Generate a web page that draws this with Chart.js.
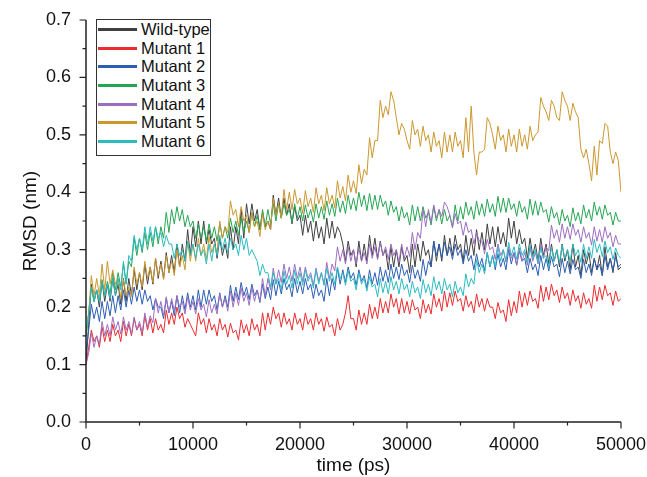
<!DOCTYPE html>
<html lang="en">
<head>
<meta charset="UTF-8">
<title>RMSD vs time</title>
<script src="https://cdn.jsdelivr.net/npm/chart.js@4.4.3/dist/chart.umd.min.js"></script>
<style>
  html, body { margin: 0; padding: 0; background: #fff; }
  .wrap { position: relative; width: 647px; height: 477px; }
  canvas { display: block; }
  .legend { position: absolute; left: 96px; top: 19px; width: 115px; height: 137px; box-sizing: border-box;
    border: 1px solid #333; background: #fff; font-family: 'Liberation Sans', Arial, sans-serif; font-size: 16.5px; color: #111; }
  .legend .row { display: flex; align-items: center; height: 18.7px; white-space: nowrap; }
  .legend .sw { width: 39px; height: 3px; margin-left: 1px; margin-right: 4px; flex: 0 0 39px; }
</style>
</head>
<body>
<div class="wrap">
  <canvas id="c" width="647" height="477"></canvas>
  <div class="legend" id="legend"></div>
</div>
<script>
// time axis, one frame every 250 ps
const time = [0,250,500,750,1000,1250,1500,1750,2000,2250,2500,2750,3000,3250,3500,3750,4000,4250,4500,4750,
  5000,5250,5500,5750,6000,6250,6500,6750,7000,7250,7500,7750,8000,8250,8500,8750,9000,9250,9500,9750,
  10000,10250,10500,10750,11000,11250,11500,11750,12000,12250,12500,12750,13000,13250,13500,13750,14000,14250,14500,14750,
  15000,15250,15500,15750,16000,16250,16500,16750,17000,17250,17500,17750,18000,18250,18500,18750,19000,19250,19500,19750,
  20000,20250,20500,20750,21000,21250,21500,21750,22000,22250,22500,22750,23000,23250,23500,23750,24000,24250,24500,24750,
  25000,25250,25500,25750,26000,26250,26500,26750,27000,27250,27500,27750,28000,28250,28500,28750,29000,29250,29500,29750,
  30000,30250,30500,30750,31000,31250,31500,31750,32000,32250,32500,32750,33000,33250,33500,33750,34000,34250,34500,34750,
  35000,35250,35500,35750,36000,36250,36500,36750,37000,37250,37500,37750,38000,38250,38500,38750,39000,39250,39500,39750,
  40000,40250,40500,40750,41000,41250,41500,41750,42000,42250,42500,42750,43000,43250,43500,43750,44000,44250,44500,44750,
  45000,45250,45500,45750,46000,46250,46500,46750,47000,47250,47500,47750,48000,48250,48500,48750,49000,49250,49500,49750,
  50000];

const seriesNames = ['Wild-type', 'Mutant 1', 'Mutant 2', 'Mutant 3', 'Mutant 4', 'Mutant 5', 'Mutant 6'];
const seriesColors = ['#3f3f3f', '#ec2b2e', '#2c5eb4', '#25a553', '#9d6ec0', '#cb982e', '#2bbcc0'];

const wildType = [0.10,0.17,0.24,0.21,0.23,0.20,0.245,0.21,0.24,0.21,0.25,0.22,0.24,0.205,0.25,0.21,0.25,0.22,0.265,0.23,
  0.26,0.23,0.275,0.24,0.27,0.24,0.285,0.25,0.28,0.25,0.295,0.26,0.29,0.26,0.31,0.27,0.31,0.28,0.335,0.29,
  0.34,0.305,0.35,0.31,0.35,0.31,0.335,0.31,0.32,0.285,0.32,0.29,0.31,0.285,0.34,0.30,0.34,0.31,0.37,0.32,
  0.38,0.345,0.38,0.35,0.37,0.335,0.365,0.34,0.35,0.335,0.395,0.36,0.39,0.355,0.39,0.36,0.38,0.345,0.375,0.35,
  0.36,0.325,0.36,0.33,0.35,0.315,0.35,0.32,0.34,0.31,0.355,0.32,0.35,0.32,0.34,0.33,0.31,0.28,0.315,0.29,
  0.30,0.27,0.315,0.28,0.31,0.28,0.325,0.29,0.32,0.285,0.315,0.29,0.30,0.265,0.305,0.27,0.30,0.27,0.305,0.28,
  0.29,0.26,0.31,0.27,0.31,0.28,0.315,0.29,0.30,0.27,0.315,0.28,0.31,0.28,0.325,0.29,0.32,0.29,0.325,0.30,
  0.31,0.28,0.325,0.29,0.32,0.29,0.335,0.30,0.33,0.30,0.345,0.31,0.34,0.305,0.34,0.31,0.33,0.305,0.355,0.32,
  0.35,0.31,0.335,0.31,0.32,0.285,0.32,0.29,0.31,0.28,0.32,0.29,0.31,0.275,0.31,0.28,0.30,0.27,0.31,0.28,
  0.30,0.265,0.31,0.27,0.29,0.255,0.30,0.275,0.295,0.26,0.285,0.265,0.29,0.255,0.305,0.27,0.285,0.26,0.295,0.265,
  0.27];

const mutant1 = [0.10,0.13,0.16,0.14,0.15,0.13,0.165,0.14,0.16,0.14,0.17,0.15,0.16,0.14,0.175,0.15,0.17,0.15,0.18,0.16,
  0.17,0.15,0.185,0.16,0.18,0.155,0.18,0.16,0.17,0.155,0.195,0.17,0.19,0.17,0.20,0.18,0.19,0.165,0.18,0.17,
  0.16,0.15,0.19,0.17,0.18,0.155,0.18,0.16,0.17,0.15,0.18,0.16,0.17,0.148,0.172,0.155,0.16,0.143,0.178,0.155,
  0.17,0.15,0.18,0.16,0.17,0.15,0.19,0.16,0.19,0.17,0.20,0.18,0.19,0.165,0.19,0.17,0.18,0.16,0.19,0.17,
  0.18,0.16,0.19,0.17,0.18,0.16,0.19,0.17,0.18,0.158,0.183,0.165,0.17,0.15,0.18,0.16,0.17,0.19,0.22,0.18,
  0.18,0.16,0.195,0.17,0.19,0.17,0.205,0.18,0.20,0.18,0.215,0.19,0.21,0.19,0.223,0.20,0.215,0.188,0.215,0.19,
  0.21,0.188,0.213,0.195,0.20,0.18,0.213,0.19,0.205,0.188,0.223,0.20,0.215,0.193,0.228,0.20,0.225,0.203,0.228,0.21,
  0.215,0.193,0.22,0.20,0.21,0.19,0.223,0.20,0.215,0.193,0.215,0.20,0.20,0.18,0.208,0.19,0.195,0.175,0.213,0.185,
  0.21,0.19,0.228,0.20,0.225,0.203,0.228,0.21,0.215,0.198,0.238,0.21,0.235,0.213,0.24,0.22,0.23,0.208,0.235,0.215,
  0.225,0.203,0.23,0.21,0.22,0.198,0.225,0.205,0.215,0.198,0.238,0.21,0.235,0.213,0.238,0.22,0.225,0.203,0.228,0.21,
  0.215];

const mutant2 = [0.12,0.16,0.205,0.18,0.20,0.175,0.21,0.18,0.21,0.185,0.22,0.19,0.22,0.195,0.23,0.20,0.23,0.205,0.235,0.21,
  0.23,0.205,0.23,0.21,0.22,0.195,0.215,0.20,0.20,0.18,0.215,0.19,0.21,0.185,0.22,0.19,0.22,0.195,0.225,0.20,
  0.22,0.195,0.23,0.20,0.23,0.205,0.23,0.21,0.22,0.195,0.225,0.20,0.22,0.20,0.238,0.21,0.235,0.213,0.243,0.22,
  0.235,0.213,0.24,0.22,0.23,0.208,0.24,0.215,0.235,0.213,0.248,0.22,0.245,0.223,0.25,0.23,0.24,0.218,0.25,0.225,
  0.245,0.223,0.25,0.23,0.24,0.215,0.24,0.22,0.23,0.21,0.25,0.22,0.25,0.23,0.268,0.24,0.265,0.243,0.27,0.25,
  0.26,0.238,0.265,0.245,0.255,0.233,0.265,0.24,0.26,0.238,0.27,0.245,0.265,0.243,0.275,0.25,0.27,0.248,0.275,0.255,
  0.265,0.243,0.273,0.25,0.265,0.245,0.283,0.255,0.28,0.27,0.315,0.29,0.31,0.285,0.313,0.29,0.305,0.283,0.31,0.29,
  0.30,0.275,0.30,0.28,0.29,0.265,0.293,0.27,0.285,0.263,0.295,0.27,0.29,0.265,0.293,0.27,0.285,0.265,0.30,0.275,
  0.295,0.273,0.298,0.28,0.285,0.26,0.285,0.265,0.275,0.255,0.29,0.265,0.285,0.263,0.288,0.27,0.275,0.253,0.285,0.26,
  0.28,0.258,0.283,0.265,0.27,0.25,0.283,0.26,0.275,0.255,0.285,0.265,0.275,0.255,0.29,0.265,0.285,0.263,0.288,0.27,
  0.275];

const mutant3 = [0.15,0.19,0.235,0.21,0.23,0.21,0.248,0.22,0.245,0.223,0.26,0.23,0.26,0.235,0.275,0.24,0.28,0.27,0.32,0.29,
  0.32,0.295,0.33,0.30,0.33,0.305,0.34,0.31,0.34,0.32,0.365,0.33,0.37,0.345,0.375,0.35,0.37,0.34,0.36,0.34,
  0.35,0.32,0.345,0.32,0.34,0.315,0.345,0.32,0.34,0.315,0.345,0.32,0.34,0.32,0.355,0.33,0.35,0.325,0.355,0.33,
  0.35,0.33,0.365,0.34,0.36,0.335,0.37,0.34,0.37,0.345,0.38,0.35,0.38,0.355,0.38,0.36,0.37,0.348,0.38,0.355,
  0.375,0.35,0.378,0.355,0.37,0.348,0.38,0.355,0.375,0.353,0.385,0.36,0.38,0.358,0.39,0.365,0.385,0.363,0.395,0.37,
  0.39,0.368,0.40,0.375,0.395,0.368,0.398,0.37,0.395,0.37,0.395,0.375,0.385,0.36,0.385,0.365,0.375,0.35,0.375,0.355,
  0.365,0.343,0.378,0.35,0.375,0.35,0.375,0.355,0.365,0.343,0.375,0.35,0.37,0.345,0.37,0.35,0.36,0.34,0.378,0.35,
  0.375,0.353,0.383,0.36,0.375,0.353,0.385,0.36,0.38,0.358,0.388,0.365,0.38,0.358,0.393,0.365,0.39,0.365,0.39,0.37,
  0.38,0.358,0.385,0.365,0.375,0.353,0.388,0.36,0.385,0.36,0.383,0.365,0.37,0.348,0.375,0.355,0.365,0.343,0.37,0.35,
  0.36,0.34,0.373,0.35,0.365,0.345,0.378,0.355,0.37,0.35,0.383,0.36,0.375,0.353,0.378,0.36,0.365,0.343,0.365,0.35,
  0.35];

const mutant4 = [0.10,0.12,0.155,0.13,0.15,0.135,0.175,0.15,0.17,0.15,0.183,0.16,0.175,0.153,0.183,0.16,0.175,0.153,0.183,0.16,
  0.175,0.155,0.19,0.165,0.185,0.173,0.215,0.19,0.21,0.185,0.218,0.19,0.215,0.193,0.22,0.20,0.21,0.188,0.218,0.195,
  0.21,0.188,0.215,0.195,0.205,0.183,0.213,0.19,0.205,0.188,0.223,0.20,0.215,0.193,0.228,0.20,0.225,0.203,0.233,0.21,
  0.225,0.203,0.235,0.21,0.23,0.21,0.25,0.22,0.25,0.23,0.268,0.24,0.265,0.243,0.275,0.25,0.27,0.245,0.275,0.25,
  0.27,0.245,0.27,0.25,0.26,0.238,0.268,0.245,0.26,0.24,0.278,0.25,0.275,0.263,0.305,0.28,0.30,0.275,0.305,0.28,
  0.30,0.275,0.303,0.28,0.295,0.275,0.31,0.285,0.305,0.283,0.313,0.29,0.305,0.283,0.31,0.29,0.30,0.278,0.31,0.285,
  0.305,0.288,0.33,0.30,0.33,0.32,0.37,0.34,0.37,0.348,0.378,0.355,0.37,0.358,0.383,0.375,0.36,0.338,0.363,0.345,
  0.35,0.325,0.348,0.33,0.335,0.31,0.33,0.315,0.315,0.293,0.318,0.30,0.305,0.283,0.31,0.29,0.30,0.278,0.305,0.285,
  0.295,0.273,0.303,0.28,0.295,0.273,0.303,0.28,0.295,0.275,0.31,0.285,0.305,0.298,0.343,0.32,0.335,0.313,0.345,0.32,
  0.34,0.318,0.345,0.325,0.335,0.313,0.34,0.32,0.33,0.308,0.34,0.315,0.335,0.313,0.34,0.32,0.33,0.305,0.325,0.31,
  0.31];

const mutant5 = [0.15,0.19,0.255,0.22,0.25,0.22,0.275,0.23,0.28,0.24,0.265,0.24,0.25,0.215,0.248,0.22,0.235,0.218,0.27,0.24,
  0.26,0.235,0.28,0.25,0.27,0.243,0.285,0.255,0.275,0.248,0.29,0.26,0.28,0.255,0.30,0.27,0.29,0.265,0.315,0.28,
  0.31,0.28,0.32,0.29,0.31,0.283,0.323,0.295,0.31,0.295,0.35,0.32,0.34,0.33,0.385,0.36,0.37,0.34,0.375,0.35,
  0.36,0.33,0.365,0.34,0.35,0.323,0.363,0.335,0.35,0.335,0.39,0.36,0.38,0.355,0.405,0.37,0.40,0.37,0.405,0.38,
  0.39,0.363,0.403,0.375,0.39,0.365,0.408,0.38,0.395,0.368,0.408,0.38,0.395,0.373,0.42,0.39,0.41,0.385,0.43,0.40,
  0.42,0.398,0.448,0.415,0.44,0.43,0.495,0.46,0.49,0.49,0.56,0.53,0.55,0.535,0.575,0.56,0.53,0.50,0.52,0.51,
  0.49,0.475,0.525,0.50,0.51,0.48,0.515,0.49,0.50,0.47,0.505,0.48,0.49,0.46,0.505,0.47,0.50,0.47,0.505,0.48,
  0.49,0.46,0.53,0.47,0.55,0.47,0.43,0.47,0.47,0.475,0.53,0.52,0.50,0.475,0.515,0.49,0.50,0.47,0.51,0.48,
  0.50,0.47,0.51,0.48,0.50,0.475,0.515,0.49,0.50,0.505,0.565,0.55,0.54,0.525,0.56,0.55,0.53,0.525,0.575,0.56,
  0.55,0.525,0.555,0.54,0.53,0.475,0.46,0.475,0.45,0.42,0.48,0.43,0.49,0.485,0.52,0.515,0.47,0.45,0.47,0.455,
  0.40];

const mutant6 = [0.15,0.19,0.235,0.21,0.23,0.21,0.245,0.22,0.24,0.215,0.25,0.22,0.25,0.23,0.28,0.24,0.29,0.28,0.325,0.30,
  0.32,0.30,0.34,0.31,0.34,0.315,0.34,0.32,0.33,0.305,0.325,0.31,0.31,0.285,0.31,0.29,0.30,0.28,0.315,0.29,
  0.31,0.285,0.31,0.29,0.30,0.275,0.31,0.28,0.31,0.29,0.325,0.30,0.32,0.295,0.32,0.30,0.31,0.29,0.325,0.30,
  0.32,0.29,0.30,0.29,0.28,0.255,0.275,0.26,0.26,0.235,0.26,0.24,0.25,0.23,0.263,0.24,0.255,0.233,0.265,0.24,
  0.26,0.238,0.265,0.245,0.255,0.233,0.265,0.24,0.26,0.238,0.268,0.245,0.26,0.24,0.27,0.25,0.26,0.238,0.263,0.245,
  0.25,0.23,0.26,0.24,0.25,0.228,0.253,0.235,0.24,0.218,0.25,0.225,0.245,0.223,0.253,0.23,0.245,0.223,0.25,0.23,
  0.24,0.218,0.245,0.225,0.235,0.215,0.248,0.225,0.24,0.22,0.253,0.23,0.245,0.223,0.25,0.23,0.24,0.218,0.245,0.225,
  0.235,0.22,0.258,0.235,0.25,0.24,0.283,0.26,0.275,0.258,0.295,0.27,0.29,0.27,0.305,0.28,0.30,0.28,0.313,0.29,
  0.305,0.283,0.31,0.29,0.30,0.278,0.308,0.285,0.30,0.278,0.303,0.285,0.29,0.27,0.305,0.28,0.30,0.278,0.308,0.285,
  0.30,0.28,0.31,0.29,0.30,0.278,0.31,0.285,0.305,0.285,0.318,0.295,0.31,0.288,0.315,0.295,0.305,0.283,0.303,0.29,
  0.285];

const seriesValues = [wildType, mutant1, mutant2, mutant3, mutant4, mutant5, mutant6];

// html legend, origin style box
const legend = document.getElementById('legend');
seriesNames.forEach((name, i) => {
  const row = document.createElement('div');
  row.className = 'row';
  row.innerHTML = `<span class="sw" style="background:${seriesColors[i]}"></span><span>${name}</span>`;
  legend.appendChild(row);
});

// axis lines + outward ticks like Origin (major long, minor short)
const axesPlugin = {
  id: 'originAxes',
  afterDraw(chart) {
    const { ctx, chartArea: a, scales: { x, y } } = chart;
    ctx.save();
    ctx.strokeStyle = '#222';
    ctx.lineWidth = 1.5;
    ctx.beginPath();
    ctx.moveTo(a.left, a.top);
    ctx.lineTo(a.left, a.bottom);
    ctx.lineTo(a.right, a.bottom);
    ctx.stroke();
    ctx.lineWidth = 1.2;
    ctx.beginPath();
    x.ticks.forEach(t => {
      const px = x.getPixelForValue(t.value);
      const len = Math.round(t.value) % 10000 ? 3.5 : 6.5;
      ctx.moveTo(px, a.bottom);
      ctx.lineTo(px, a.bottom + len);
    });
    y.ticks.forEach(t => {
      const py = y.getPixelForValue(t.value);
      const len = Math.round(t.value * 20) % 2 ? 3.5 : 6.5;
      ctx.moveTo(a.left, py);
      ctx.lineTo(a.left - len, py);
    });
    ctx.stroke();
    ctx.restore();
  }
};

Chart.defaults.font.family = "'Liberation Sans', Arial, sans-serif";
Chart.defaults.color = '#111';

new Chart(document.getElementById('c'), {
  type: 'line',
  data: {
    datasets: seriesNames.map((name, i) => ({
      label: name,
      data: time.map((t, j) => ({ x: t, y: seriesValues[i][j] })),
      borderColor: seriesColors[i],
      borderWidth: 1,
      pointRadius: 0,
      tension: 0,
      order: seriesNames.length - i
    }))
  },
  options: {
    responsive: false,
    animation: false,
    layout: { padding: { left: 0, right: 26, top: 20, bottom: 0 } },
    plugins: { legend: { display: false }, tooltip: { enabled: false } },
    scales: {
      x: {
        type: 'linear',
        min: 0, max: 50000,
        grid: { display: false, drawTicks: false },
        border: { display: false },
        ticks: {
          stepSize: 5000, autoSkip: false, maxRotation: 0, padding: 12,
          font: { size: 18 },
          callback: v => (Math.round(v) % 10000 ? '' : String(v))
        },
        title: { display: true, text: 'time (ps)', font: { size: 19 }, padding: { top: 0, bottom: 0 } },
        afterFit: s => { s.height = 55; s.paddingLeft = 0; s.paddingRight = 0; }
      },
      y: {
        min: 0, max: 0.7,
        grid: { display: false, drawTicks: false },
        border: { display: false },
        ticks: {
          stepSize: 0.05, autoSkip: false, padding: 15,
          font: { size: 18 },
          callback: v => (Math.round(v * 20) % 2 ? '' : v.toFixed(1))
        },
        title: { display: true, text: 'RMSD (nm)', font: { size: 19 }, padding: { top: 19, bottom: 0 } },
        afterFit: s => { s.width = 86; s.paddingTop = 0; s.paddingBottom = 0; }
      }
    }
  },
  plugins: [axesPlugin]
});
</script>
</body>
</html>
